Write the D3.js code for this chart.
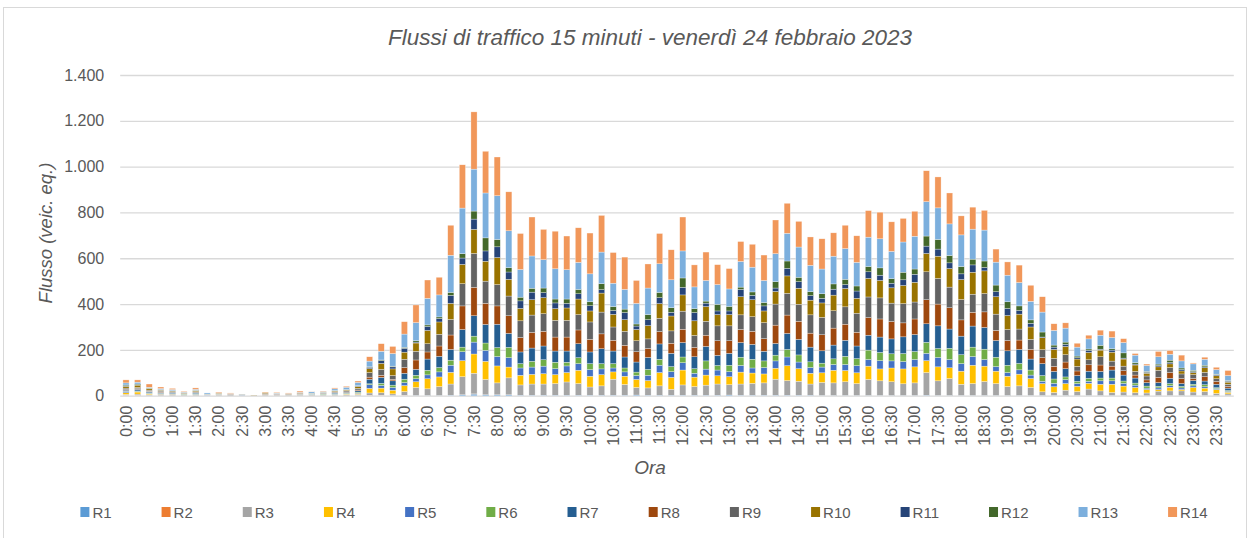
<!DOCTYPE html>
<html>
<head>
<meta charset="utf-8">
<script src="https://cdn.jsdelivr.net/npm/d3@7"></script>
<style>
  body { margin: 0; background: #fff; }
  svg text { font-family: "Liberation Sans", Arial, sans-serif; fill: #595959; }
</style>
</head>
<body>
<div id="chart"></div>
<script>
// categories: 15-minute slots
var times = [
  "0:00","0:15","0:30","0:45","1:00","1:15","1:30","1:45","2:00","2:15","2:30","2:45",
  "3:00","3:15","3:30","3:45","4:00","4:15","4:30","4:45","5:00","5:15","5:30","5:45",
  "6:00","6:15","6:30","6:45","7:00","7:15","7:30","7:45","8:00","8:15","8:30","8:45",
  "9:00","9:15","9:30","9:45","10:00","10:15","10:30","10:45","11:00","11:15","11:30","11:45",
  "12:00","12:15","12:30","12:45","13:00","13:15","13:30","13:45","14:00","14:15","14:30","14:45",
  "15:00","15:15","15:30","15:45","16:00","16:15","16:30","16:45","17:00","17:15","17:30","17:45",
  "18:00","18:15","18:30","18:45","19:00","19:15","19:30","19:45","20:00","20:15","20:30","20:45",
  "21:00","21:15","21:30","21:45","22:00","22:15","22:30","22:45","23:00","23:15","23:30","23:45"
];

var seriesNames = ["R1","R2","R3","R4","R5","R6","R7","R8","R9","R10","R11","R12","R13","R14"];
var seriesColors = ["#5B9BD5","#ED7D31","#A5A5A5","#FFC000","#4472C4","#70AD47","#255E91",
                    "#9E480E","#636363","#997300","#264478","#43682B","#7CAFDD","#F1975A"];

// values (veic. eq.) per slot
var R1 = [1,1,1,0,0,0,0,0,0,0, 0,0,0,0,0,0,0,0,0,0, 1,1,1,1,1,1,1,1,2,4,
  7,4,4,4,2,2,2,2,2,2, 2,2,2,2,3,2,2,2,2,2, 2,2,3,2,2,2,2,2,2,2,
  1,1,1,1,1,1,1,1,1,2, 1,1,1,1,1,1,1,1,1,1, 1,1,1,1,1,1,1,1,0,1, 1,1,1,1,1,1];
var R2 = [1,1,0,0,0,0,0,0,0,0, 0,0,0,0,0,0,0,0,0,0, 0,1,1,0,1,0,0,0,0,0,
  1,0,0,0,0,0,0,0,0,0, 0,0,0,0,0,0,0,0,0,0, 0,0,0,0,0,0,0,0,0,0,
  0,0,0,0,0,0,0,0,0,0, 0,0,0,0,0,0,0,0,0,0, 0,0,0,0,0,0,0,0,0,0, 0,0,0,0,0,0];
var R3 = [4,5,4,3,3,3,3,2,3,4, 2,1,3,3,3,3,3,3,3,4, 5,10,11,7,16,35,29,39,49,79,
  90,67,52,74,45,49,49,51,58,51, 36,41,70,47,33,32,41,26,45,38, 44,49,45,49,52,54,70,64,61,49,
  57,55,60,52,70,64,60,51,55,99, 64,74,49,52,61,52,39,42,35,16, 13,23,17,28,20,13,15,12,12,19, 20,20,15,17,9,7];
var R4 = [7,9,4,3,3,1,2,0,1,1, 0,0,1,1,1,1,1,1,2,3, 4,20,20,16,26,25,44,42,51,70,
  84,79,74,47,42,42,45,39,41,58, 47,49,32,36,35,32,58,52,65,41, 44,36,35,52,45,39,48,65,55,47,
  42,55,49,47,58,52,60,65,70,52, 61,47,57,80,67,54,45,51,39,36, 25,29,23,25,29,36,26,23,15,7, 16,6,20,15,17,7];
var R5 = [4,3,2,2,2,1,2,1,1,0, 0,0,0,1,0,1,2,1,2,2, 3,16,12,12,13,13,17,22,31,39,
  52,48,41,41,32,32,33,26,29,29, 29,25,17,19,17,23,32,25,32,17, 26,25,22,29,22,28,32,38,29,25,
  25,25,26,31,29,36,31,32,32,32, 41,36,33,38,29,20,16,19,15,10, 15,17,12,9,15,15,12,10,6,7, 7,7,7,6,4,4];
var R6 = [2,2,2,2,1,2,2,1,1,0, 0,0,0,0,0,1,1,2,2,2, 3,4,9,10,15,15,20,19,22,20,
  26,32,39,45,19,25,28,28,16,26, 26,23,19,17,15,26,26,22,25,20, 36,20,28,36,38,29,25,33,31,25,
  17,25,36,31,41,36,31,35,35,48, 39,49,39,41,45,41,32,28,22,25, 19,12,10,13,12,12,10,9,9,7, 9,7,7,9,4,4];
var R7 = [5,7,4,4,3,1,3,1,1,0, 1,0,0,0,0,1,2,2,3,4, 6,20,26,19,26,26,49,49,47,77,
  89,81,102,61,51,58,60,49,49,61, 51,65,55,48,44,52,67,58,63,52, 63,44,52,64,65,42,51,70,68,64,
  54,60,70,55,65,67,65,73,74,81, 99,84,81,92,95,73,63,61,48,52, 33,36,25,31,29,35,26,22,15,16, 23,12,16,16,15,10];
var R8 = [3,3,2,2,1,1,2,0,1,1, 0,0,2,1,1,2,0,1,2,2, 3,9,9,6,25,41,31,45,63,103,
  124,92,80,77,63,68,64,61,61,60, 55,65,47,51,45,39,54,44,58,41, 49,64,55,57,57,55,80,80,79,61,
  70,74,70,60,77,79,76,61,68,105, 95,93,71,60,68,44,45,41,42,26, 22,29,20,28,28,17,19,13,12,23, 25,22,9,19,12,7];
var R9 = [6,5,5,4,3,2,4,1,2,2, 2,1,4,2,2,2,1,2,4,5, 7,20,26,17,36,38,36,51,68,97,
  148,97,93,86,73,76,77,73,73,67, 76,95,58,61,48,42,58,54,79,52, 61,65,65,64,64,70,92,95,74,80,
  76,76,76,83,90,92,80,84,74,122, 112,90,89,79,80,71,48,48,44,35, 35,32,20,22,36,22,20,16,17,31, 22,20,17,19,12,10];
var R10 = [8,10,6,4,4,2,4,1,2,1, 1,1,4,2,2,2,1,2,3,3, 8,17,26,29,31,36,58,54,70,84,
  105,87,118,73,54,67,70,51,54,68, 48,83,55,51,49,58,64,65,71,64, 64,49,49,79,74,51,55,76,70,64,
  63,68,80,65,81,76,67,79,86,80, 97,81,87,96,99,76,61,65,54,52, 39,36,32,32,29,39,31,28,12,15, 16,13,9,20,13,9];
var R11 = [3,2,2,1,1,0,1,0,0,0, 0,0,0,0,0,0,0,0,1,1, 2,6,12,9,17,4,17,15,35,28,
  45,45,47,32,33,33,22,25,20,23, 23,15,17,31,15,26,26,16,33,36, 15,16,16,32,19,22,15,33,29,20,
  20,26,17,32,29,23,20,25,35,32, 31,25,25,32,15,22,31,16,16,3, 10,9,6,9,4,9,4,4,4,6, 6,6,4,4,4,4];
var R12 = [3,3,2,2,1,1,1,0,0,0, 0,0,0,0,0,0,0,1,1,1, 2,2,3,3,4,6,7,7,13,19,
  35,57,32,19,16,17,20,17,19,19, 17,26,17,15,9,22,23,20,41,17, 9,29,20,10,15,15,28,32,19,17,
  20,23,23,22,23,32,20,33,23,44, 42,32,32,25,28,29,29,20,15,22, 9,10,7,6,17,6,23,6,4,6, 10,7,6,7,3,3];
var R13 = [9,8,3,4,5,2,4,5,1,1, 1,0,0,2,1,2,6,3,7,10, 14,25,38,55,58,79,116,96,162,199,
  183,196,191,161,121,141,124,132,128,118, 122,138,102,86,90,116,125,122,118,95, 90,86,76,112,108,96,122,121,132,115,
  108,121,134,103,128,127,119,132,143,150, 138,138,138,131,135,100,116,102,81,87, 64,61,39,44,44,49,45,33,26,32, 26,31,28,26,20,22];
var R14 = [13,10,14,7,5,3,6,0,3,2, 0,0,2,3,2,5,1,2,4,4, 6,19,33,31,54,77,80,77,131,189,
  250,182,169,170,157,170,132,164,147,151, 178,160,134,141,100,105,132,131,148,96, 124,87,89,87,100,111,147,131,112,124,
  132,102,102,116,116,116,129,103,109,135, 135,135,83,96,86,57,58,76,70,67, 29,23,17,16,22,28,17,7,6,23, 16,25,4,9,10,22];

var yTickValues = [0, 200, 400, 600, 800, 1000, 1200, 1400];

var seriesValues = [R1,R2,R3,R4,R5,R6,R7,R8,R9,R10,R11,R12,R13,R14];

var svgWidth = 1250, svgHeight = 538;
var plot = { left: 120.2, right: 1233.8, top: 75, bottom: 395.7 };

var svg = d3.select("#chart").append("svg")
  .attr("width", svgWidth)
  .attr("height", svgHeight);

// chart frame
svg.append("rect")
  .attr("x", 3.5).attr("y", 7.5)
  .attr("width", 1243).attr("height", 540)
  .attr("fill", "#fff")
  .attr("stroke", "#d9d9d9")
  .attr("stroke-width", 1);

// build table for the stack
var table = times.map(function(t, i) {
  var row = { time: t };
  seriesNames.forEach(function(k, j) { row[k] = seriesValues[j][i]; });
  return row;
});

var stacked = d3.stack().keys(seriesNames)(table);

var x = d3.scaleBand()
  .domain(times)
  .range([plot.left, plot.right])
  .paddingInner(0.47)
  .paddingOuter(0.235);

var y = d3.scaleLinear()
  .domain([0, 1400])
  .range([plot.bottom, plot.top]);

var color = d3.scaleOrdinal().domain(seriesNames).range(seriesColors);

var it = d3.formatLocale({ decimal: ",", thousands: ".", grouping: [3], currency: ["€", ""] });
var fmt = it.format(",");

// y axis + gridlines
var yAxis = d3.axisLeft(y)
  .tickValues(yTickValues)
  .tickFormat(fmt)
  .tickSize(-(plot.right - plot.left))
  .tickPadding(16);

var yg = svg.append("g")
  .attr("transform", `translate(${plot.left}, 0)`)
  .call(yAxis);
yg.select(".domain").remove();
yg.selectAll(".tick line")
  .attr("stroke", "#d9d9d9")
  .attr("stroke-width", 1.3);
yg.selectAll(".tick text")
  .style("font-size", "16px")
  .attr("fill", "#595959");

// bars
svg.append("g").selectAll("g")
  .data(stacked)
  .enter()
  .append("g")
  .attr("fill", d => color(d.key))
  .selectAll("rect")
  .data(d => d)
  .enter()
  .append("rect")
  .attr("x", d => x(d.data.time))
  .attr("y", d => y(d[1]))
  .attr("width", x.bandwidth())
  .attr("height", d => y(d[0]) - y(d[1]))
  .attr("stroke", "#ffffff")
  .attr("stroke-width", 0.5)
  .attr("stroke-opacity", 0.6);

// x axis, labels every 30 minutes
var xAxis = d3.axisBottom(x)
  .tickValues(times.filter((t, i) => i % 2 === 0))
  .tickSize(0)
  .tickPadding(0);

var xg = svg.append("g")
  .attr("transform", `translate(0, ${plot.bottom})`)
  .call(xAxis);
xg.select(".domain").remove();
xg.selectAll(".tick text")
  .attr("transform", "rotate(-90)")
  .attr("x", -10)
  .attr("y", 0)
  .attr("dy", "0.35em")
  .style("text-anchor", "end")
  .style("font-size", "16px")
  .attr("fill", "#595959");

// title
svg.append("text")
  .attr("x", 650)
  .attr("y", 45)
  .attr("text-anchor", "middle")
  .style("font-size", "22.5px")
  .style("font-style", "italic")
  .text("Flussi di traffico 15 minuti - venerdì 24 febbraio 2023");

// axis titles
svg.append("text")
  .attr("transform", "translate(52, 233) rotate(-90)")
  .attr("text-anchor", "middle")
  .style("font-size", "18.5px")
  .style("font-style", "italic")
  .text("Flusso (veic. eq.)");

svg.append("text")
  .attr("x", 650)
  .attr("y", 474)
  .attr("text-anchor", "middle")
  .style("font-size", "19px")
  .style("font-style", "italic")
  .text("Ora");

// legend
var legend = svg.append("g");
var lx = 0;
seriesNames.forEach(function(name, i) {
  var item = legend.append("g").attr("transform", `translate(${lx}, 0)`);
  item.append("rect")
    .attr("x", 0).attr("y", 507)
    .attr("width", 9).attr("height", 10)
    .attr("fill", seriesColors[i]);
  var t = item.append("text")
    .attr("x", 12).attr("y", 518)
    .style("font-size", "15px")
    .text(name);
  lx += 12 + t.node().getComputedTextLength() + 50;
});
var legendWidth = lx - 50;
legend.attr("transform", `translate(${644 - legendWidth / 2}, 0)`);
</script>
</body>
</html>
